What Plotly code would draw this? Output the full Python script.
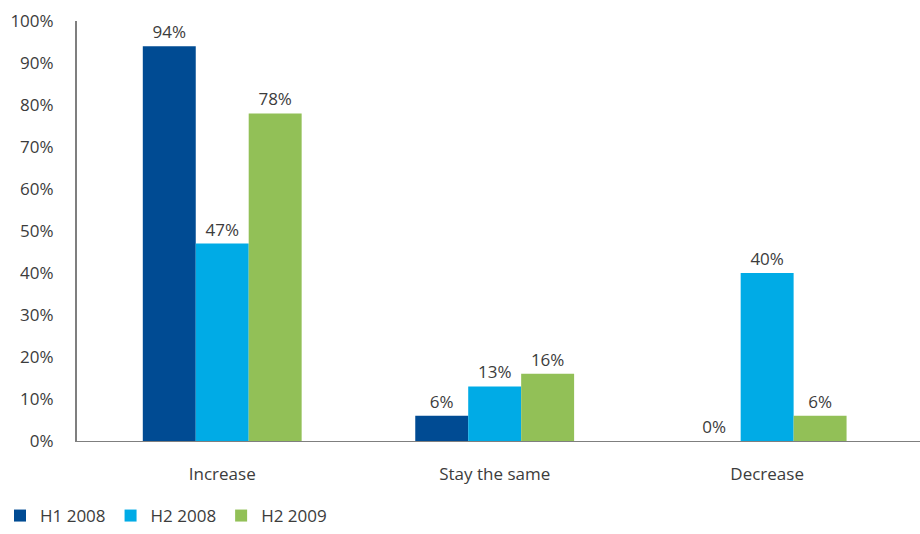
import plotly.graph_objects as go

categories = ["Increase", "Stay the same", "Decrease"]
series_names = ["H1 2008", "H2 2008", "H2 2009"]
h1_2008 = [94, 6, 0]
h2_2008 = [47, 13, 40]
h2_2009 = [78, 16, 6]
y_ticks = [0, 10, 20, 30, 40, 50, 60, 70, 80, 90, 100]
y_tick_labels = [f"{v}%" for v in y_ticks]

colors = ["#004B93", "#00ABE6", "#92C057"]
font_family = "Open Sans, Liberation Sans, sans-serif"
text_color = "#3c3c3c"

fig = go.Figure()
for name, vals, col in zip(series_names, [h1_2008, h2_2008, h2_2009], colors):
    fig.add_trace(go.Bar(
        x=categories, y=vals, name=name,
        marker=dict(color=col, line=dict(width=0)),
        text=[f"{v}%" for v in vals],
        textposition="outside",
        textfont=dict(size=17, color=text_color, family=font_family),
        cliponaxis=False,
    ))

fig.update_layout(
    width=920, height=534,
    margin=dict(l=77, r=0, t=21, b=93),
    paper_bgcolor="white", plot_bgcolor="white",
    barmode="group", bargap=0.417, bargroupgap=0,
    font=dict(family=font_family, size=17, color=text_color),
    showlegend=True,
    legend=dict(
        orientation="h", xref="container", yref="container",
        x=-0.006, y=0.0, xanchor="left", yanchor="bottom",
        font=dict(size=17, color=text_color),
        itemwidth=30, tracegroupgap=0,
    ),
    xaxis=dict(
        range=[-0.533, 2.561],
        showline=True, linecolor="#7f7f7f", linewidth=1,
        ticks="", showgrid=False, zeroline=False,
        ticklabelstandoff=18,
        tickfont=dict(size=17, color=text_color),
    ),
    yaxis=dict(
        range=[0, 100], tickvals=y_ticks, ticktext=y_tick_labels,
        showline=True, linecolor="#7f7f7f", linewidth=2,
        ticks="", showgrid=False, zeroline=False,
        ticklabelstandoff=18,
        tickfont=dict(size=17, color=text_color),
    ),
)

fig.write_html("out.html")
